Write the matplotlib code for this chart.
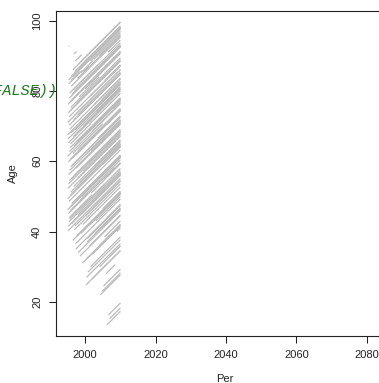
import matplotlib
matplotlib.use('Agg')
import matplotlib.pyplot as plt

''' Datos de la figura de Lexis: entrada (periodo, edad) y periodo de salida '''
per_in = [1995.1, 1995.4, 1995.2, 1995.7, 1995.0, 1995.9, 1995.3, 1996.1, 1995.6, 1995.2,
          1996.4, 1995.5, 1995.8, 1995.1, 1996.0, 1995.4, 1996.6, 1995.2, 1995.9, 1996.3,
          1995.6, 1996.8, 1995.3, 1996.1, 1995.3, 1996.5, 1995.0, 1995.7, 1996.2, 1995.5,
          1997.2, 1998.0, 1997.6, 1998.8, 1997.1, 1999.3, 1997.9, 1998.4, 1997.3, 1999.0,
          1997.7, 1998.6, 1997.0, 1999.5, 1998.1, 1997.4, 1998.9, 1997.8, 1999.2, 1997.2,
          1998.5, 1997.9, 1999.6, 1997.5, 1998.3, 1997.0, 1999.1, 1997.8, 1998.7, 1997.5,
          1999.5, 1998.2, 1999.8, 1997.4, 1998.0, 1999.4, 1997.1, 1998.6, 1999.0, 1997.7,
          2000.2, 2000.8, 2001.5, 2000.4, 2002.0, 2001.1, 2000.6, 2002.7, 2001.3, 2003.0,
          2000.1, 2002.2, 2001.8, 2003.4, 2000.5, 2002.5, 2001.0, 2003.2, 2000.9, 2002.8,
          2001.6, 2000.3, 2003.6, 2002.1, 2001.2, 2000.7, 2003.1, 2002.4, 2001.4, 2000.0,
          2003.5, 2002.0, 2001.0, 2003.0, 2000.5, 2001.9, 2002.6, 2003.3, 2000.2, 2001.7,
          2004.3, 2005.2, 2004.8, 2006.1, 2006.6, 2006.9, 2004.0, 2005.5, 2004.6, 2006.3,
          2005.0, 2007.1, 2004.2, 2006.0, 2005.4, 2007.5, 2004.9, 2006.7, 2005.8, 2004.4,
          2007.3, 2006.2, 2005.1, 2008.0, 2004.7, 2006.5, 2005.6, 2007.8, 2005.0, 2004.1,
          2008.5, 2008.8, 2009.0, 2007.0, 2005.9,
          1995.2, 1995.6, 1995.0, 1995.4, 1995.8, 1995.1, 1995.5, 1995.3, 1995.9, 1995.0,
          1995.7, 1995.2, 1995.6, 1995.0, 1995.4, 1995.8, 1995.1, 1995.5, 1996.0, 1995.3,
          1996.4, 1997.0, 1996.9, 1996.5, 1997.3, 1998.5, 1999.2, 1996.7, 1996.3, 1996.8,
          1996.6, 1996.9, 1996.2, 1998.8, 2000.0, 2001.5, 2002.5, 2004.0, 2006.5, 2000.4,
          1996.2, 1995.8, 1996.5, 1995.9, 1996.0, 1997.2, 1996.8]
age_in = [40.2, 42.8, 45.1, 47.0, 49.3, 51.2, 53.6, 55.0, 57.4, 59.8,
          61.0, 62.7, 64.9, 66.3, 68.1, 70.2, 71.5, 73.8, 75.3, 77.6,
          79.4, 80.5, 82.0, 84.2, 92.6, 86.0, 67.5, 60.5, 48.0, 44.0,
          36.5, 34.0, 38.8, 39.5, 41.6, 42.0, 44.7, 46.3, 48.9, 50.0,
          52.4, 54.1, 56.0, 57.2, 59.0, 61.8, 63.5, 65.6, 66.8, 69.0,
          71.0, 73.2, 74.5, 76.4, 78.3, 80.0, 81.7, 83.5, 85.1, 85.5,
          85.5, 87.8, 88.3, 58.0, 63.0, 70.0, 72.0, 49.0, 45.0, 55.0,
          24.8, 28.5, 30.0, 32.3, 33.5, 35.8, 38.0, 39.4, 41.9, 43.0,
          44.5, 46.7, 48.4, 50.2, 52.0, 53.8, 55.6, 57.5, 59.4, 61.2,
          63.0, 65.0, 66.5, 68.6, 70.5, 72.8, 74.0, 76.0, 78.5, 80.6,
          82.0, 84.5, 82.0, 86.0, 37.0, 26.5, 58.5, 64.0, 62.0, 51.0,
          22.0, 24.5, 23.0, 13.4, 16.3, 15.2, 36.0, 38.5, 41.0, 44.0,
          46.5, 48.0, 50.5, 52.5, 55.0, 57.0, 59.0, 61.5, 64.0, 66.0,
          68.5, 70.5, 73.0, 75.0, 77.5, 80.0, 83.0, 85.0, 88.0, 30.0,
          60.0, 50.0, 40.0, 33.0, 28.0,
          41.5, 43.6, 46.2, 48.6, 50.4, 52.3, 54.5, 56.2, 58.4, 61.4,
          63.8, 65.2, 69.1, 71.0, 72.6, 74.4, 76.2, 78.0, 81.3, 83.1,
          84.0, 85.5, 40.5, 37.5, 35.0, 33.0, 31.0, 52.8, 58.9, 64.3,
          67.0, 73.0, 79.0, 86.5, 88.0, 88.5, 89.0, 90.0, 91.0, 27.0,
          42.3, 46.0, 62.2, 77.0, 83.0, 88.5, 90.5]
per_out = [2010, 2010, 2008.3, 2010, 2010, 2010, 2010, 2004.2, 2010, 2010,
           2010, 2010, 2001.5, 2010, 2010, 2010, 2010, 2006.0, 2010, 2010,
           2003.8, 2010, 1999.2, 2010, 1995.5, 2010, 2009.0, 2010, 2010, 2002.0,
           2010, 2010, 2010, 2010, 2010, 2010, 2010, 2005.5, 2010, 2010,
           2010, 2010, 2010, 2010, 2007.5, 2010, 2010, 2010, 2010, 2010,
           2010, 2010, 2010, 2010, 2004.0, 2010, 2010, 2010, 2002.3, 2010,
           2001.0, 2010, 2001.2, 2010, 2010, 2010, 2010, 2010, 2010, 2010,
           2010, 2010, 2010, 2010, 2010, 2010, 2010, 2010, 2010, 2010,
           2010, 2010, 2010, 2010, 2010, 2010, 2010, 2010, 2010, 2010,
           2010, 2010, 2010, 2010, 2010, 2010, 2010, 2010, 2010, 2010,
           2010, 2008.0, 2010, 2010, 2010, 2010, 2010, 2010, 2010, 2010,
           2010, 2010, 2010, 2010, 2010, 2010, 2010, 2010, 2010, 2010,
           2010, 2010, 2010, 2010, 2010, 2010, 2010, 2010, 2010, 2010,
           2010, 2010, 2010, 2010, 2010, 2010, 2010, 2010, 2010, 2010,
           2010, 2010, 2010, 2010, 2008.5,
           2010, 2010, 2010, 2010, 2010, 2010, 2010, 2010, 2010, 2010,
           2010, 2010, 2010, 2010, 2010, 2010, 2010, 2010, 2010, 2010,
           2010, 2010, 2010, 2010, 2010, 2010, 2010, 2010, 2010, 2010,
           2010, 2010, 2010, 2010, 2010, 2010, 2010, 2010, 2010, 2010,
           2003.5, 2000.8, 2005.0, 2000.5, 1998.5, 1999.0, 1997.5]

x_ticks = [2000, 2020, 2040, 2060, 2080]
y_ticks = [20, 40, 60, 80, 100]

plt.rcParams['font.family'] = ['Liberation Sans', 'DejaVu Sans']

fig = plt.figure(figsize=(3.79, 3.83), dpi=100)
# el eje se sale por la derecha de la figura (como en el original)
ax = fig.add_axes([56/379, 47/383, 338/379, 325.3/383])

# Lineas de vida (pendiente 1: la edad avanza con el periodo)
for p0, a0, p1 in zip(per_in, age_in, per_out):
    ax.plot([p0, p1], [a0, a0 + (p1 - p0)], color='#bcbcbc', lw=0.9,
            solid_capstyle='butt')

ax.set_xlim(1991.7, 2087.7)
ax.set_ylim(10.3, 102.8)
ax.set_xticks(x_ticks)
ax.set_yticks(y_ticks)
ax.set_yticklabels([str(v) for v in y_ticks], rotation=90, va='center')
ax.tick_params(direction='out', length=5, width=0.75, labelsize=8,
               colors='#222222', pad=5)
for s in ax.spines.values():
    s.set_linewidth(0.8)
    s.set_color('#222222')
ax.spines['right'].set_visible(False)
ax.set_xlabel('Per', fontsize=8, color='#222222', labelpad=10)
ax.set_ylabel('Age', fontsize=8, color='#222222', labelpad=10)

# resto de codigo que se cuela a la izquierda
fig.text(58/379, 1 - 91/383, '(FALSE))', ha='right', va='center',
         family='Liberation Mono', style='italic', color='#1e7b1e',
         fontsize=11, zorder=10)

fig.savefig('out.png', dpi=100)
